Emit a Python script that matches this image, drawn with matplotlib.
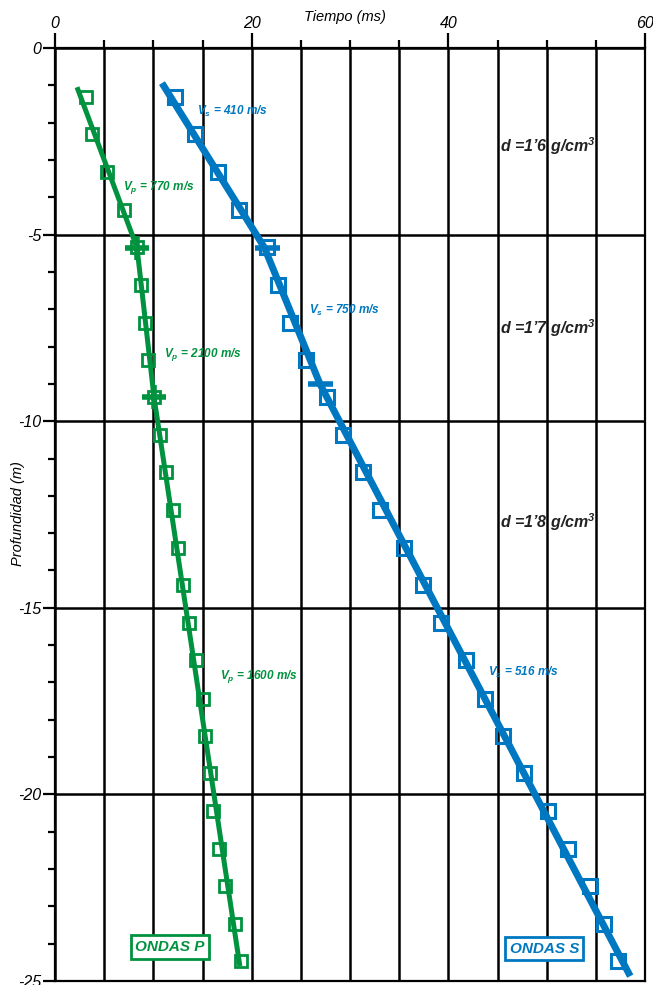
import matplotlib
matplotlib.use("Agg")
import matplotlib.pyplot as plt
from matplotlib.ticker import MultipleLocator

plt.rcParams['font.family'] = ['Liberation Sans', 'DejaVu Sans']
plt.rcParams['axes.unicode_minus'] = False
plt.rcParams['mathtext.fontset'] = 'custom'
plt.rcParams['mathtext.it'] = 'Liberation Sans:italic:bold'
plt.rcParams['mathtext.rm'] = 'Liberation Sans:italic:bold'
plt.rcParams['mathtext.bf'] = 'Liberation Sans:italic:bold'

# ---- data (time in ms, depth in m) ----
p_time = [3.15, 3.76, 5.29, 7.02, 8.34, 8.75, 9.16, 9.46, 10.07, 10.68, 11.29, 12.0,
          12.51, 13.02, 13.63, 14.34, 15.06, 15.26, 15.77, 16.07, 16.68, 17.29, 18.31, 18.92]
p_depth = [-1.31, -2.31, -3.33, -4.35, -5.34, -6.36, -7.38, -8.37, -9.36, -10.38, -11.37, -12.39,
           -13.41, -14.40, -15.42, -16.41, -17.44, -18.43, -19.42, -20.44, -21.46, -22.45, -23.47, -24.46]
s_time = [12.21, 14.24, 16.58, 18.72, 21.57, 22.69, 23.91, 25.53, 27.67, 29.30, 31.33, 33.06,
          35.50, 37.44, 39.27, 41.81, 43.74, 45.57, 47.71, 50.15, 52.19, 54.42, 55.85, 57.27]
s_depth = p_depth

# fitted lines (breakpoints)
p_fit_time = [2.24, 8.34, 10.07, 18.8]
p_fit_depth = [-1.05, -5.35, -9.36, -24.6]
s_fit_time = [10.88, 21.3, 26.96, 58.5]
s_fit_depth = [-0.94, -5.35, -9.01, -24.87]

# layer-boundary marks
p_break_time = [8.34, 10.07]
p_break_depth = [-5.35, -9.36]
s_break_time = [21.6, 26.96]
s_break_depth = [-5.35, -9.01]

vel_labels = ["V$_p$ = 770 m/s", "V$_p$ = 2100 m/s", "V$_p$ = 1600 m/s",
              "V$_s$ = 410 m/s", "V$_s$ = 750 m/s", "V$_s$ = 516 m/s"]
vel_time = [6.92, 11.09, 16.79, 14.45, 25.84, 44.05]
vel_depth = [-3.73, -8.21, -16.85, -1.69, -7.03, -16.74]
vel_is_p = [True, True, True, False, False, False]

dens_labels = ["d =1\u20196 g/cm$^3$", "d =1\u20197 g/cm$^3$", "d =1\u20198 g/cm$^3$"]
dens_time = [45.27, 45.27, 45.27]
dens_depth = [-2.63, -7.51, -12.71]

x_ticks = [0, 20, 40, 60]
y_ticks = [0, -5, -10, -15, -20, -25]

GREEN = "#00923F"
BLUE = "#0078C1"

fig = plt.figure(figsize=(6.53, 9.85), dpi=100)
ax = fig.add_axes([55/653, 1-981/985, (645-55)/653, (981-48)/985])
ax.set_xlim(0, 60)
ax.set_ylim(-25, 0)

ax.xaxis.tick_top()
ax.set_xticks(x_ticks)
ax.xaxis.set_minor_locator(MultipleLocator(5))
ax.set_yticks(y_ticks)
ax.yaxis.set_minor_locator(MultipleLocator(1))
ax.tick_params(axis='x', which='major', length=11, width=1.6, direction='out', labelsize=11.5, pad=1)
ax.tick_params(axis='x', which='minor', length=6, width=1.6, direction='out')
ax.tick_params(axis='y', which='major', length=9, width=1.6, direction='out', labelsize=11.5, pad=1)
ax.tick_params(axis='y', which='minor', length=5, width=1.6, direction='out')
for lab in ax.get_xticklabels() + ax.get_yticklabels():
    lab.set_fontstyle('italic')

for sp in ax.spines.values():
    sp.set_linewidth(1.6)

ax.xaxis.grid(True, which='both', color='black', lw=1.8)
ax.yaxis.grid(True, which='major', color='black', lw=1.8)
ax.set_axisbelow(True)

fig.text(345/653, 1-17/985, "Tiempo (ms)", fontsize=10.5, fontstyle='italic',
         ha='center', va='center')
fig.text(18/653, 1-514/985, "Profundidad (m)", fontsize=10.5, fontstyle='italic',
         rotation=90, ha='center', va='center')

# fitted lines
ax.plot(p_fit_time, p_fit_depth, color=GREEN, lw=3.6, solid_capstyle='butt', zorder=3)
ax.plot(s_fit_time, s_fit_depth, color=BLUE, lw=5.0, solid_capstyle='butt', zorder=3)

# data markers
ax.plot(p_time, p_depth, ls='none', marker='s', ms=9, mfc='none', mec=GREEN, mew=2.0, zorder=4)
ax.plot(s_time, s_depth, ls='none', marker='s', ms=10, mfc='none', mec=BLUE, mew=2.2, zorder=4)

# break marks
ax.plot(p_break_time, p_break_depth, ls='none', marker='+', ms=17, mec=GREEN, mew=4, zorder=5)
ax.plot(s_break_time, s_break_depth, ls='none', marker='_', ms=18, mec=BLUE, mew=4, zorder=5)

for lab, t, d, isp in zip(vel_labels, vel_time, vel_depth, vel_is_p):
    ax.text(t, d, lab, color=GREEN if isp else BLUE, fontsize=8.5, fontstyle='italic',
            fontweight='bold', ha='left', va='center', zorder=6)

for lab, t, d in zip(dens_labels, dens_time, dens_depth):
    ax.text(t, d, lab, color='#222222', fontsize=11.5, fontstyle='italic',
            fontweight='bold', ha='left', va='center', zorder=6)

ax.text(11.7, -24.09, "ONDAS P", color=GREEN, fontsize=11, fontstyle='italic', fontweight='bold',
        ha='center', va='center', zorder=6,
        bbox=dict(boxstyle='square,pad=0.3', fc='white', ec=GREEN, lw=2))
ax.text(49.75, -24.14, "ONDAS S", color=BLUE, fontsize=11, fontstyle='italic', fontweight='bold',
        ha='center', va='center', zorder=6,
        bbox=dict(boxstyle='square,pad=0.3', fc='white', ec=BLUE, lw=2))

fig.savefig("out.png", dpi=100)
